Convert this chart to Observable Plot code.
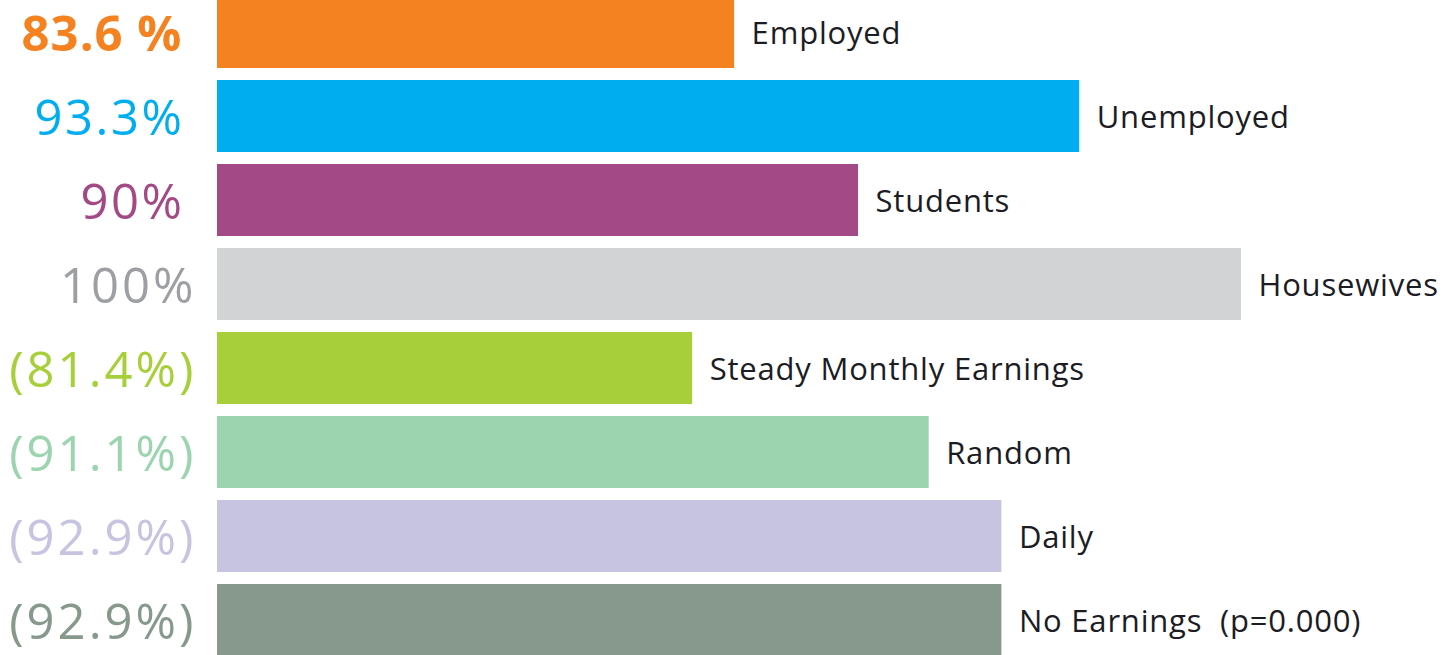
<!DOCTYPE html>
<html>
<head>
<meta charset="utf-8">
<script src="https://cdn.jsdelivr.net/npm/d3@7"></script>
<script src="https://cdn.jsdelivr.net/npm/@observablehq/plot@0.6"></script>
<style>
  html, body { margin: 0; padding: 0; background: #ffffff; }
  #chart svg { display: block; }
</style>
</head>
<body>
<div id="chart"></div>
<script>
// Categories (top to bottom)
const categories = ["Employed", "Unemployed", "Students", "Housewives", "Steady Monthly Earnings", "Random", "Daily", "No Earnings  (p=0.000)"];
// Bar lengths as drawn (relative to the longest bar = 100)
const barValues = [50.5, 84.2, 62.6, 100, 46.4, 69.5, 76.6, 76.6];
// Percentage labels shown left of each bar
const pctLabels = ["83.6 %", "93.3%", "90%", "100%", "(81.4%)", "(91.1%)", "(92.9%)", "(92.9%)"];
// Bar colours and label colours
const barColors = ["#F58220", "#00AEEF", "#A34985", "#D1D3D4", "#A7CF3A", "#9BD4AE", "#C7C4E1", "#87998D"];
const pctColors = ["#F58220", "#00AEEF", "#A34985", "#9D9FA2", "#A7CF3A", "#9BD4AE", "#C7C4E1", "#87998D"];

const data = categories.map((c, i) => ({
  category: c, value: barValues[i], pct: pctLabels[i],
  bar: barColors[i], pcol: pctColors[i], i
}));

const font = "'Open Sans', 'Noto Sans', sans-serif";

const chart = Plot.plot({
  width: 1442,
  height: 655,
  margin: 0,
  style: { fontFamily: font, background: "#ffffff" },
  x: { domain: [0, 100], range: [217, 1241], axis: null },
  y: { domain: categories, range: [-18.9, 670.6], padding: 0.144, axis: null },
  marks: [
    Plot.barX(data, { x: "value", y: "category", fill: "bar" }),
    Plot.text(data, {
      x: "value", y: "category", text: "category",
      textAnchor: "start", dx: 17, dy: 2, fill: "#1b1c24",
      fontSize: 31
    }),
    Plot.text(data.filter(d => d.i === 0), {
      y: "category", text: "pct", frameAnchor: "left", dx: 182,
      textAnchor: "end", dy: 3, fill: "pcol", fontSize: 49,
      fontWeight: "bold"
    }),
    Plot.text(data.filter(d => d.i > 0 && d.i < 3), {
      y: "category", text: "pct", frameAnchor: "left", dx: 184,
      textAnchor: "end", dy: 3, fill: "pcol", fontSize: 49
    }),
    Plot.text(data.filter(d => d.i >= 3), {
      y: "category", text: "pct", frameAnchor: "left", dx: 196,
      textAnchor: "end", dy: 3, fill: "pcol", fontSize: 49
    })
  ]
});
const groups = chart.querySelectorAll("g[aria-label='text']");
if (groups[0]) groups[0].setAttribute("letter-spacing", "0.8");
if (groups[1]) groups[1].setAttribute("letter-spacing", "1");
if (groups[2]) groups[2].setAttribute("letter-spacing", "2.5");
if (groups[3]) groups[3].setAttribute("letter-spacing", "3");
document.getElementById("chart").appendChild(chart);
</script>
</body>
</html>
